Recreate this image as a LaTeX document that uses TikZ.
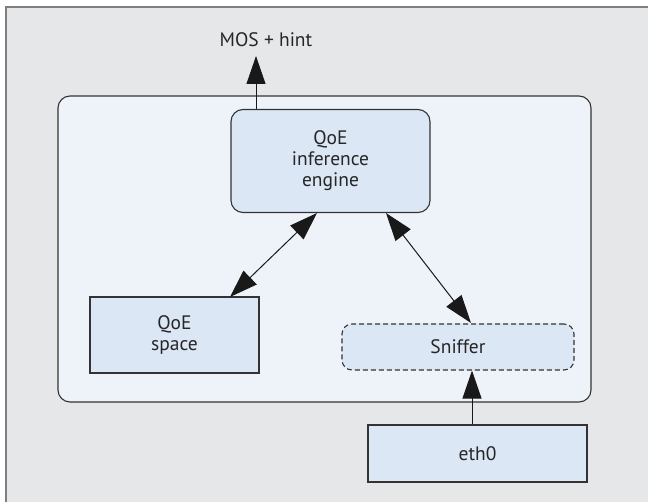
\documentclass[tikz,border=0pt]{standalone}
\usepackage{fontspec}
\setmainfont{PT Sans}
\usetikzlibrary{arrows.meta}
\definecolor{bggray}{HTML}{E6E7E8}
\definecolor{framegray}{HTML}{7F7F7F}
\definecolor{innerfill}{HTML}{EEF3FA}
\definecolor{boxfill}{HTML}{DCE7F5}
\definecolor{linec}{HTML}{333333}
\begin{document}
\begin{tikzpicture}[x=1pt,y=-1pt,
  txt/.style={font=\fontsize{19.5}{21}\selectfont, text=black!85},
  boxstyle/.style={draw=linec, line width=1.1pt, fill=boxfill, txt, align=center, inner sep=0pt},
  conn/.style={line width=1pt, draw=black!90, arrows={-Triangle[length=28pt,width=19pt]}},
  biconn/.style={line width=1pt, draw=black!90, arrows={Triangle[length=28pt,width=19pt]-Triangle[length=28pt,width=19pt]}}]
\useasboundingbox (0,0) rectangle (648,502);
\fill[bggray] (6,7) rectangle (648,502);
\draw[framegray, line width=1.8pt] (6,502) -- (6,7) -- (648,7);
\draw[linec, line width=1.1pt, fill=innerfill, rounded corners=12pt] (58,96) rectangle (591,402);
\node[boxstyle, rounded corners=12pt, minimum width=199pt, minimum height=103pt] (engine) at (330.5,161) {QoE\\inference\\engine};
\node[boxstyle, minimum width=169pt, minimum height=76pt] (space) at (174.5,335) {QoE\\space};
\node[boxstyle, dashed, dash pattern=on 5pt off 3pt, rounded corners=10pt, minimum width=232pt, minimum height=46pt] (sniffer) at (458,347) {Sniffer};
\node[boxstyle, minimum width=219pt, minimum height=57pt] (eth) at (477.5,453.5) {eth0};
\node[txt] (mos) at (266,40) {MOS + hint};
\coordinate (mostip) at (256,56);
\draw[conn] (engine.north -| mostip) -- (mostip);
\coordinate (e1) at (317,213);
\coordinate (s1) at (230,297);
\draw[biconn] (s1) -- (e1);
\coordinate (e2) at (386,213);
\coordinate (n2) at (471,323);
\draw[biconn] (n2) -- (e2);
\draw[conn] (eth.north -| 472,0) -- (sniffer.south -| 472,0);
\end{tikzpicture}
\end{document}
